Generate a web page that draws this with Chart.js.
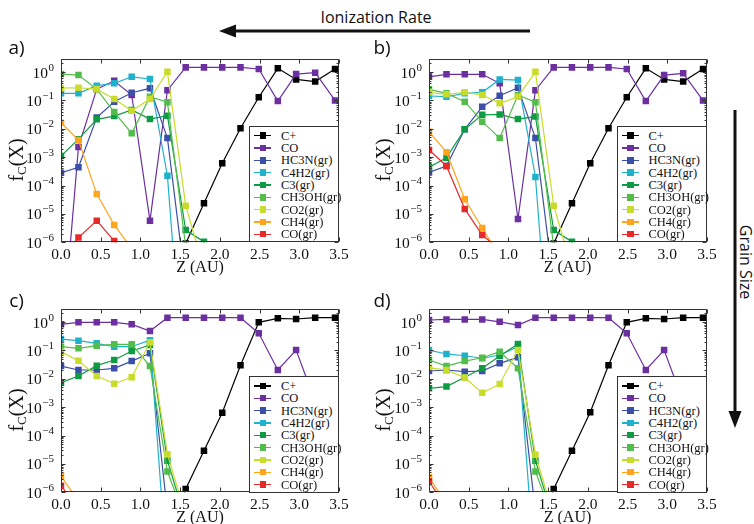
<!DOCTYPE html>
<html><head><meta charset="utf-8">
<script src="https://cdn.jsdelivr.net/npm/chart.js@4.4.1/dist/chart.umd.min.js"></script>
<style>
html,body{margin:0;padding:0;background:#fff;}
#wrap{position:relative;width:754px;height:524px;overflow:hidden;background:#fff;}
.pane{position:absolute;}
.pane canvas{display:block;}
.ctr{position:absolute;white-space:nowrap;line-height:1;color:#111;}
.sans{font-family:"Open Sans",sans-serif;}
.serif{font-family:"Liberation Serif",serif;}
.legend{position:absolute;background:#fff;border:1px solid #333;box-sizing:border-box;z-index:5;}
.legend .row{position:absolute;left:0;width:100%;height:12px;}
.legend .ln{position:absolute;left:4px;width:17px;top:5.5px;height:1.2px;}
.legend .mk{position:absolute;left:9.5px;width:6.5px;height:6.5px;top:2.75px;}
.legend .tx{position:absolute;left:31px;top:-1px;font-family:"Liberation Serif",serif;font-size:12.5px;color:#111;line-height:14px;}
svg.ov{position:absolute;left:0;top:0;z-index:6;}
</style>
</head><body>
<div id="wrap"></div>
<script>
// ---------- data ----------
const zValues = [0, 0.22, 0.45, 0.67, 0.89, 1.12, 1.34, 1.57, 1.80, 2.03, 2.26, 2.49, 2.73, 2.96, 3.20, 3.45];
const xTickValues = [0, 0.5, 1.0, 1.5, 2.0, 2.5, 3.0, 3.5];
const yTickValues = [1e-6, 1e-5, 1e-4, 1e-3, 1e-2, 1e-1, 1];
const speciesNames = ['C+', 'CO', 'HC3N(gr)', 'C4H2(gr)', 'C3(gr)', 'CH3OH(gr)', 'CO2(gr)', 'CH4(gr)', 'CO(gr)'];
const panelLetters = ['a)', 'b)', 'c)', 'd)'];

// panel a
const cPlus_a = [null, null, null, null, null, null, null, 9e-7, 2.4e-5, 6.1e-4, 0.0104, 0.129, 1.35, 0.55, 0.46, 1.28];
const co_a    = [1e-10, 2.3e-3, 0.25, 0.49, 0.155, 5.8e-6, 0.23, 1.46, 1.46, 1.46, 1.46, 1.28, 0.095, 0.85, 0.95, 0.10];
const hc3n_a  = [2.8e-4, 4.4e-4, 0.025, 0.09, 0.187, 0.267, 4.7e-3, 3e-8];
const c4h2_a  = [0.178, 0.178, 0.33, 0.40, 0.68, 0.57, 2.2e-4, 1e-12];
const c3_a    = [1.1e-3, 4.3e-3, 0.0216, 0.028, 0.046, 0.022, 0.029, 2.7e-6, 1.05e-6, 1e-8];
const ch3oh_a = [0.85, 0.78, 0.25, 0.039, 6.9e-3, 0.135, 0.086, 7e-7, 1e-8];
const co2_a   = [0.27, 0.28, 0.25, 0.112, 0.043, 0.112, 1.02, 1.96e-5, 1.2e-7];
const ch4_a   = [0.0164, 4.0e-3, 5.0e-5, 4.1e-6, 6e-7];
const cogr_a  = [3e-7, 1.47e-6, 5.8e-6, 1.12e-6, 2e-7];

// panel b
const cPlus_b = [null, null, null, null, null, null, null, 9e-7, 2.4e-5, 6.1e-4, 0.0104, 0.129, 1.35, 0.55, 0.46, 1.28];
const co_b    = [0.68, 0.83, 0.83, 0.83, 0.40, 6.6e-6, 0.23, 1.46, 1.46, 1.46, 1.46, 1.28, 0.095, 0.78, 0.90, 0.10];
const hc3n_b  = [2.9e-4, 4.9e-4, 9.6e-3, 0.06, 0.146, 0.28, 4.7e-3, 3e-8];
const c4h2_b  = [0.143, 0.135, 0.178, 0.193, 0.55, 0.52, 2.0e-4, 1e-12];
const c3_b    = [4.4e-4, 9.6e-4, 9.6e-3, 0.031, 0.032, 0.022, 0.027, 2.7e-6, 1.05e-6, 1e-8];
const ch3oh_b = [0.246, 0.178, 0.09, 0.0178, 4.7e-3, 0.155, 0.086, 7e-7, 1e-8];
const co2_b   = [0.193, 0.164, 0.193, 0.155, 0.079, 0.135, 1.02, 1.96e-5, 1.2e-7];
const ch4_b   = [7.9e-3, 1.5e-3, 3.3e-5, 3.2e-6, 3.2e-7];
const cogr_b  = [1.8e-3, 4.9e-4, 1.5e-5, 1.8e-6, 5.7e-7];

// panel c
const cPlus_c = [null, null, null, null, null, null, 1e-8, 1.3e-6, 2.9e-5, 6.4e-4, 0.03, 0.98, 1.35, 1.28, 1.42, 1.42];
const co_c    = [0.83, 0.98, 0.98, 0.98, 0.83, 0.48, 1.42, 1.42, 1.42, 1.42, 1.42, 0.40, 0.0204, 0.103, 1.6e-3, 1e-4];
const hc3n_c  = [0.028, 0.0204, 0.0204, 0.0234, 0.042, 0.079, 2e-7];
const c4h2_c  = [0.25, 0.22, 0.178, 0.135, 0.135, 0.23, 1e-9];
const c3_c    = [7.3e-3, 0.0125, 0.029, 0.046, 0.095, 0.155, 1.3e-5, 1e-7];
const ch3oh_c = [0.135, 0.119, 0.147, 0.164, 0.164, 0.028, 5.4e-6, 1e-7];
const co2_c   = [0.09, 0.0435, 0.0125, 6.7e-3, 0.0113, 0.193, 2.2e-5, 1.5e-7];
const ch4_c   = [3.8e-6, 4.8e-7];
const cogr_c  = [1.7e-6, 2.8e-7];

// panel d
const cPlus_d = [null, null, null, null, null, null, 1e-8, 1.3e-6, 2.9e-5, 6.6e-4, 0.03, 0.98, 1.35, 1.28, 1.42, 1.42];
const co_d    = [1.18, 1.24, 1.24, 1.24, 1.02, 0.78, 1.42, 1.42, 1.42, 1.42, 1.42, 0.40, 0.0204, 0.103, 1.6e-3, 1e-4];
const hc3n_d  = [0.0188, 0.0204, 0.0178, 0.0188, 0.035, 0.057, 2e-7];
const c4h2_d  = [0.103, 0.075, 0.065, 0.053, 0.069, 0.135, 1e-9];
const c3_d    = [4.6e-3, 5.3e-3, 0.0113, 0.0234, 0.064, 0.168, 1.3e-5, 1e-7];
const ch3oh_d = [0.046, 0.028, 0.042, 0.055, 0.09, 0.0234, 5.4e-6, 1e-7];
const co2_d   = [0.0246, 0.0204, 0.011, 3.2e-3, 6.6e-3, 0.103, 2.1e-5, 1.5e-7];
const ch4_d   = [3.4e-6, 4e-7];
const cogr_d  = [2.4e-6, 3e-7];

// ---------- styles ----------
const speciesColors = ['#000000', '#6b2fa0', '#3c4fa8', '#1fb2cc', '#0f9b43', '#52bd4a', '#c9dc2c', '#ffa51e', '#e62a2a'];

const panels = [
  {ox: 0,     oy: 0,     series: [cPlus_a, co_a, hc3n_a, c4h2_a, c3_a, ch3oh_a, co2_a, ch4_a, cogr_a]},
  {ox: 367.5, oy: 0,     series: [cPlus_b, co_b, hc3n_b, c4h2_b, c3_b, ch3oh_b, co2_b, ch4_b, cogr_b]},
  {ox: 0,     oy: 250.3, series: [cPlus_c, co_c, hc3n_c, c4h2_c, c3_c, ch3oh_c, co2_c, ch4_c, cogr_c]},
  {ox: 367.5, oy: 250.3, series: [cPlus_d, co_d, hc3n_d, c4h2_d, c3_d, ch3oh_d, co2_d, ch4_d, cogr_d]}
];

// frame, inward ticks, and power-of-ten labels with real superscripts
const framePlugin = {
  id: 'frame',
  afterDatasetsDraw(chart) {
    const {ctx, chartArea: a, scales: {x, y}} = chart;
    const L = Math.round(a.left) + 0.5, R = Math.round(a.right) - 0.5;
    const T = Math.round(a.top) + 0.5, B = Math.round(a.bottom) - 0.5;
    ctx.save();
    ctx.strokeStyle = '#333';
    ctx.lineWidth = 1;
    ctx.beginPath();
    ctx.rect(L, T, R - L, B - T);
    x.ticks.forEach(t => {
      const px = Math.round(x.getPixelForValue(t.value)) + 0.5;
      ctx.moveTo(px, B); ctx.lineTo(px, B - 4);
      ctx.moveTo(px, T); ctx.lineTo(px, T + 4);
    });
    for (let e = -6; e <= 0; e++) {
      for (let m = 1; m <= 9; m++) {
        const v = m * Math.pow(10, e);
        if (v > y.max) break;
        const py = Math.round(y.getPixelForValue(v)) + 0.5;
        const len = m === 1 ? 4 : 2;
        ctx.moveTo(L, py); ctx.lineTo(L + len, py);
        ctx.moveTo(R, py); ctx.lineTo(R - len, py);
      }
    }
    ctx.stroke();
    ctx.restore();
  },
  afterDraw(chart) {
    const {ctx, chartArea: a, scales: {y}} = chart;
    ctx.save();
    ctx.fillStyle = '#111';
    ctx.textBaseline = 'alphabetic';
    ctx.textAlign = 'left';
    const right = a.left - 7;
    y.ticks.forEach(t => {
      const py = y.getPixelForValue(t.value);
      const ex = String(Math.round(Math.log10(t.value))).replace('-', '\u2212');
      ctx.font = '11px "Liberation Serif"';
      const ew = ctx.measureText(ex).width;
      ctx.font = '15.5px "Liberation Serif"';
      const bw = ctx.measureText('10').width;
      const x0 = right - ew - bw - 0.5;
      ctx.fillText('10', x0, py + 5.5);
      ctx.font = '11px "Liberation Serif"';
      ctx.fillText(ex, x0 + bw + 0.5, py - 1.5);
    });
    ctx.restore();
  }
};

const wrap = document.getElementById('wrap');

function addText(html, cx, cy, cls, size, rot) {
  const d = document.createElement('div');
  d.className = 'ctr ' + cls;
  d.style.fontSize = size + 'px';
  d.style.left = cx + 'px';
  d.style.top = cy + 'px';
  d.style.transform = 'translate(-50%,-50%)' + (rot ? ' rotate(' + rot + 'deg)' : '');
  d.innerHTML = html;
  wrap.appendChild(d);
}

function makePanel(p, idx) {
  const W = 350, H = 235;
  const div = document.createElement('div');
  div.className = 'pane';
  div.style.left = p.ox + 'px';
  div.style.top = (p.oy + 40) + 'px';
  div.style.width = W + 'px';
  div.style.height = H + 'px';
  const cv = document.createElement('canvas');
  cv.width = W; cv.height = H;
  cv.style.width = W + 'px'; cv.style.height = H + 'px';
  div.appendChild(cv);
  wrap.appendChild(div);

  const datasets = p.series.map((vals, i) => ({
    label: speciesNames[i],
    data: zValues.map((z, k) => ({x: z, y: vals[k]})).filter(pt => pt.y !== null && pt.y !== undefined),
    borderColor: speciesColors[i],
    backgroundColor: speciesColors[i],
    borderWidth: 1.2,
    pointStyle: 'rect',
    pointRadius: 4.6,
    pointBorderWidth: 0,
    pointHoverRadius: 4.6,
    tension: 0,
    order: 20 - i
  }));

  new Chart(cv, {
    type: 'line',
    data: {datasets},
    options: {
      responsive: false,
      animation: false,
      devicePixelRatio: 1,
      events: [],
      layout: {padding: {left: 0, right: 11, top: 18.5, bottom: 0}, autoPadding: false},
      plugins: {legend: {display: false}, tooltip: {enabled: false}},
      scales: {
        x: {
          type: 'linear', min: 0, max: 3.5,
          grid: {display: false, drawTicks: false},
          border: {display: false},
          afterBuildTicks: s => { s.ticks = xTickValues.map(v => ({value: v})); },
          afterFit: s => { s.height = 32.7; s.paddingLeft = 0; s.paddingRight = 0; },
          ticks: {
            autoSkip: false, maxRotation: 0, padding: 3.5,
            color: '#111',
            font: {family: 'Liberation Serif', size: 15.5},
            callback: v => Number(v).toFixed(1)
          }
        },
        y: {
          type: 'logarithmic', min: 1e-6, max: 3,
          grid: {display: false, drawTicks: false},
          border: {display: false},
          afterBuildTicks: s => { s.ticks = yTickValues.map(v => ({value: v})); },
          afterFit: s => { s.width = 61; s.paddingTop = 0; s.paddingBottom = 0; },
          ticks: {display: false}
        }
      }
    },
    plugins: [framePlugin]
  });

  // legend box (lower right inside axes)
  const plotR = 339 + p.ox, plotB = 242.3 + p.oy;
  const lg = document.createElement('div');
  lg.className = 'legend';
  lg.style.left = (plotR - 90) + 'px';
  lg.style.top = (plotB - 116.3) + 'px';
  lg.style.width = '90px';
  lg.style.height = '116.3px';
  speciesNames.forEach((n, i) => {
    const row = document.createElement('div');
    row.className = 'row';
    row.style.top = (8.6 + i * 12.33 - 6) + 'px';
    row.innerHTML = '<div class="ln" style="background:' + speciesColors[i] + '"></div>' +
                    '<div class="mk" style="background:' + speciesColors[i] + '"></div>' +
                    '<div class="tx">' + n + '</div>';
    lg.appendChild(row);
  });
  wrap.appendChild(lg);

  // axis titles and panel letter
  addText('f<sub style="font-size:65%;vertical-align:-0.25em">C</sub>(X)', 16.5 + p.ox, 160 + p.oy, 'serif', 20, -90);
  addText('Z (AU)', 200 + p.ox, 266.5 + p.oy, 'serif', 16, 0);
  addText(panelLetters[idx], (idx % 2 ? 382 : 16.5), (idx < 2 ? 47 : 300), 'sans', 19, 0);
}

panels.forEach(makePanel);

// annotations: ionization rate (top) and grain size (right)
addText('Ionization Rate', 376, 17, 'sans', 16, 0);
addText('Grain Size', 746, 262, 'sans', 16, 90);
const svgNS = 'http://www.w3.org/2000/svg';
const svg = document.createElementNS(svgNS, 'svg');
svg.setAttribute('class', 'ov');
svg.setAttribute('width', 754);
svg.setAttribute('height', 524);
svg.innerHTML =
  '<line x1="530" y1="31" x2="232" y2="31" stroke="#111" stroke-width="3"/>' +
  '<polygon points="219,31 236,24.5 236,37.5" fill="#111"/>' +
  '<line x1="735" y1="110" x2="735" y2="414" stroke="#111" stroke-width="3"/>' +
  '<polygon points="735,428 728.5,411 741.5,411" fill="#111"/>';
wrap.appendChild(svg);
</script>
</body></html>
